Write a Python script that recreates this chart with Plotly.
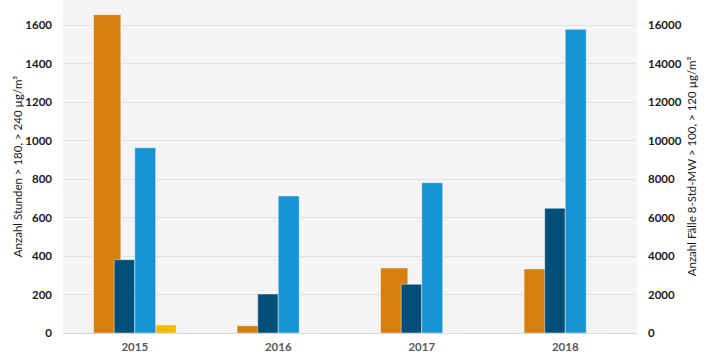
import plotly.graph_objects as go

years = ["2015", "2016", "2017", "2018"]
hours_180 = [1654, 38, 338, 333]        # orange, left axis
cases_a = [3808, 2026, 2530, 6478]      # dark blue, right axis
cases_b = [9626, 7117, 7808, 15777]     # light blue, right axis
hours_240 = [42, 0, 0, 0]               # yellow, left axis

left_ticks = list(range(0, 1601, 200))
right_ticks = list(range(0, 16001, 2000))

line = dict(color="rgba(255,255,255,0.45)", width=1)

fig = go.Figure()
fig.add_trace(go.Bar(x=years, y=hours_180, yaxis="y", marker=dict(color="#D5800D", line=line),
                     offset=-0.287, width=0.19, name="Stunden > 180"))
fig.add_trace(go.Bar(x=years, y=hours_240, yaxis="y", marker=dict(color="#F6B900", line=line),
                     offset=0.146, width=0.143, name="Stunden > 240"))
fig.add_trace(go.Bar(x=years, y=cases_a, yaxis="y2", marker=dict(color="#004F7B", line=line),
                     offset=-0.143, width=0.143, name="Fälle a"))
fig.add_trace(go.Bar(x=years, y=cases_b, yaxis="y2", marker=dict(color="#1594D3", line=line),
                     offset=0.0, width=0.146, name="Fälle b"))

tickfont = dict(family="Lato, Liberation Sans, sans-serif", size=11.5, color="#1a1a1a", weight="bold")
titlefont = dict(family="Lato, Liberation Sans, sans-serif", size=11.5, color="#1a1a1a")

fig.update_layout(
    width=707, height=354,
    margin=dict(l=63, r=70, t=0, b=21),
    paper_bgcolor="white",
    plot_bgcolor="#F4F4F4",
    barmode="overlay",
    showlegend=False,
    xaxis=dict(
        type="category", showgrid=False, zeroline=False, showline=False,
        tickfont=dict(family="Lato, Liberation Sans, sans-serif", size=11.5, color="#595959", weight="bold"),
        ticks="", ticklen=0, ticklabelstandoff=5,
    ),
    yaxis=dict(
        range=[0, 1730], tickvals=left_ticks, ticktext=[str(v) for v in left_ticks],
        showgrid=True, gridcolor="#E3E3E3", gridwidth=1,
        zeroline=True, zerolinecolor="#D9D9D9", zerolinewidth=1,
        tickfont=tickfont, ticks="", ticklabelstandoff=10,
        title=dict(text="Anzahl Stunden > 180, > 240 µg/m³", font=titlefont, standoff=0),
    ),
    yaxis2=dict(
        range=[0, 17300], tickvals=right_ticks, ticktext=[str(v) for v in right_ticks],
        overlaying="y", side="right", showgrid=False, zeroline=False,
        tickfont=tickfont, ticks="", ticklabelstandoff=10,
        title=dict(text="Anzahl Fälle 8-Std-MW > 100, > 120 µg/m³", font=titlefont, standoff=7),
    ),
)

fig.write_html("out.html")
